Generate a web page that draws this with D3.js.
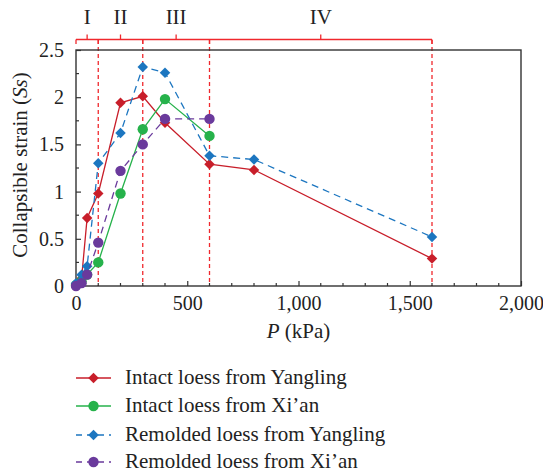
<!DOCTYPE html>
<html><head><meta charset="utf-8">
<script src="https://cdn.jsdelivr.net/npm/d3@7"></script>
<style>body{margin:0;background:#fff}svg{display:block}</style>
</head><body><svg id="c" width="543" height="475"></svg>
<script>
const pressures = [0, 25, 50, 100, 200, 300, 400, 600, 800, 1600];
const intactYangling = [0.02, 0.08, 0.72, 0.98, 1.94, 2.01, 1.73, 1.29, 1.23, 0.29];
const pressuresXian = [0, 25, 50, 100, 200, 300, 400, 600];
const intactXian = [0.01, 0.05, 0.12, 0.25, 0.98, 1.66, 1.98, 1.59];
const remoldedYangling = [0.03, 0.12, 0.21, 1.30, 1.62, 2.32, 2.26, 1.38, 1.34, 0.52];
const remoldedXian = [0.0, 0.03, 0.12, 0.46, 1.22, 1.50, 1.77, 1.77];
const stageBounds = [0, 100, 300, 600, 1600];
const stageLabels = ["I", "II", "III", "IV"];
const xTicks = [0, 500, 1000, 1500, 2000];
const yTicks = [0, 0.5, 1, 1.5, 2, 2.5];
const seriesNames = ["Intact loess from Yangling", "Intact loess from Xi\u2019an", "Remolded loess from Yangling", "Remolded loess from Xi\u2019an"];

const series = [
  {name: seriesNames[0], xs: pressures, ys: intactYangling, color: "#c81e2a", dash: null, shape: "diamond"},
  {name: seriesNames[1], xs: pressuresXian, ys: intactXian, color: "#26b24b", dash: null, shape: "circle"},
  {name: seriesNames[2], xs: pressures, ys: remoldedYangling, color: "#1c76c0", dash: "7,5", shape: "diamond"},
  {name: seriesNames[3], xs: pressuresXian, ys: remoldedXian, color: "#6a3a9c", dash: "7,5", shape: "circle"}
];

const FONT = '"Liberation Serif", "Times New Roman", serif';
const svg = d3.select("#c");
const L = 76, R = 521, T = 50, B = 286;
const x = d3.scaleLinear().domain([0, 2000]).range([L, R]);
const y = d3.scaleLinear().domain([0, 2.5]).range([B, T]);
const axisCol = "#333";
function txt(sel, size) { return sel.style("font-family", FONT).style("font-size", (size || 20) + "px").attr("fill", "#222"); }

// red dashed stage lines
svg.append("g").selectAll("line").data(stageBounds.slice(1)).join("line")
  .attr("x1", d => x(d)).attr("x2", d => x(d)).attr("y1", 40).attr("y2", B)
  .attr("stroke", "#f0282d").attr("stroke-width", 1.3).attr("stroke-dasharray", "4,3");

// bracket
const bc = "#f0282d";
const by = 39.5;
svg.append("line").attr("x1", x(0)).attr("x2", x(1600)).attr("y1", by).attr("y2", by).attr("stroke", bc).attr("stroke-width", 1.3);
svg.append("g").selectAll("line").data(stageBounds).join("line")
  .attr("x1", d => x(d)).attr("x2", d => x(d)).attr("y1", by).attr("y2", by + 4.5)
  .attr("stroke", bc).attr("stroke-width", 1.3);
const mids = stageBounds.slice(0, -1).map((d, i) => (d + stageBounds[i + 1]) / 2);
svg.append("g").selectAll("line").data(mids).join("line")
  .attr("x1", d => x(d)).attr("x2", d => x(d)).attr("y1", by).attr("y2", by - 5)
  .attr("stroke", bc).attr("stroke-width", 1.3);
txt(svg.append("g").selectAll("text").data(mids).join("text")
  .attr("x", d => x(d)).attr("y", 24).attr("text-anchor", "middle")
  .text((d, i) => stageLabels[i]), 21);

// axes
const xAxis = d3.axisBottom(x).tickValues(xTicks).tickSize(-5).tickPadding(10).tickFormat(d3.format(","));
const gx = svg.append("g").attr("transform", `translate(0,${B})`).call(xAxis);
const yAxis = d3.axisLeft(y).tickValues(yTicks).tickSize(-5).tickPadding(12).tickFormat(d => String(d));
const gy = svg.append("g").attr("transform", `translate(${L},0)`).call(yAxis);
[gx, gy].forEach(g => {
  g.attr("font-family", null).attr("font-size", null);
  g.select(".domain").remove();
  g.selectAll(".tick line").attr("stroke", axisCol).attr("stroke-width", 1.2);
  txt(g.selectAll(".tick text"), 20);
});
// minor ticks
svg.append("g").selectAll("line").data(d3.range(100, 2000, 100).filter(d => d % 500)).join("line")
  .attr("x1", d => x(d)).attr("x2", d => x(d)).attr("y1", B).attr("y2", B - 3)
  .attr("stroke", axisCol).attr("stroke-width", 1.2);
svg.append("g").selectAll("line").data(d3.range(0.25, 2.5, 0.5)).join("line")
  .attr("x1", L).attr("x2", L + 3).attr("y1", d => y(d)).attr("y2", d => y(d))
  .attr("stroke", axisCol).attr("stroke-width", 1.2);
svg.append("rect").attr("x", L).attr("y", T).attr("width", R - L).attr("height", B - T)
  .attr("fill", "none").attr("stroke", axisCol).attr("stroke-width", 1.4);

// series
const line = d3.line().x(d => x(d[0])).y(d => y(d[1]));
const diamond = d3.symbol().type(d3.symbolDiamond2).size(70);
function drawMarker(g, shape, color, cx, cy) {
  if (shape === "circle") g.append("circle").attr("cx", cx).attr("cy", cy).attr("r", 5.2).attr("fill", color);
  else g.append("path").attr("d", diamond()).attr("transform", `translate(${cx},${cy})`).attr("fill", color);
}
series.forEach(s => {
  const pts = s.xs.map((p, i) => [p, s.ys[i]]);
  const g = svg.append("g");
  g.append("path").attr("d", line(pts)).attr("fill", "none").attr("stroke", s.color)
    .attr("stroke-width", 1.3).attr("stroke-dasharray", s.dash);
  pts.forEach(p => drawMarker(g, s.shape, s.color, x(p[0]), y(p[1])));
});

// axis titles
const xt = txt(svg.append("text").attr("x", x(1000)).attr("y", 338).attr("text-anchor", "middle"), 21);
xt.append("tspan").attr("font-style", "italic").text("P");
xt.append("tspan").text(" (kPa)");
const yt = txt(svg.append("text").attr("transform", `translate(27,165) rotate(-90)`).attr("text-anchor", "middle"), 21);
yt.append("tspan").text("Collapsible strain (");
yt.append("tspan").attr("font-style", "italic").text("Ss");
yt.append("tspan").text(")");

// legend
const legY = [378, 406, 435, 462];
series.forEach((s, i) => {
  const g = svg.append("g");
  g.append("line").attr("x1", 76).attr("x2", 111).attr("y1", legY[i]).attr("y2", legY[i])
    .attr("stroke", s.color).attr("stroke-width", 1.3).attr("stroke-dasharray", s.dash ? "6,5" : null);
  drawMarker(g, s.shape, s.color, 93.5, legY[i]);
  txt(g.append("text").attr("x", 125).attr("y", legY[i]).attr("dy", "0.3em").text(s.name), 21);
});
</script></body></html>
